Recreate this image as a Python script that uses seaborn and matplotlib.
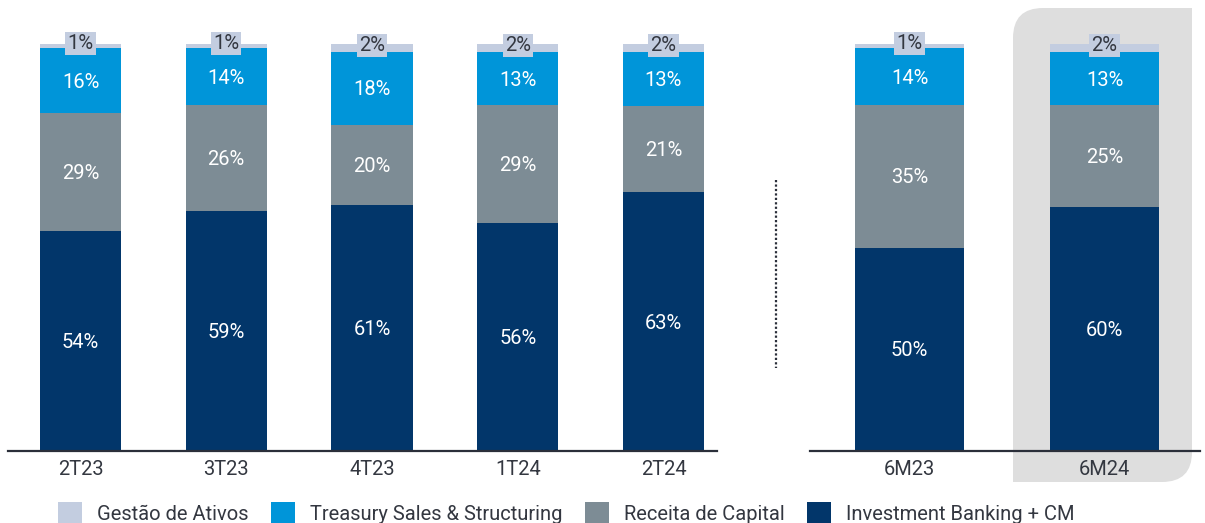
import numpy as np
import matplotlib
matplotlib.use('Agg')
import matplotlib.pyplot as plt
import seaborn as sns
from matplotlib.patches import Patch, PathPatch
from matplotlib.path import Path
from matplotlib.lines import Line2D
from matplotlib.transforms import IdentityTransform

# dados
periodos_tri = ['2T23', '3T23', '4T23', '1T24', '2T24']
periodos_sem = ['6M23', '6M24']
series = ['Gestão de Ativos', 'Treasury Sales & Structuring', 'Receita de Capital', 'Investment Banking + CM']

ib_tri = [54, 59, 61, 56, 63]
rc_tri = [29, 26, 20, 29, 21]
ts_tri = [16, 14, 18, 13, 13]
ga_tri = [1, 1, 2, 2, 2]

ib_sem = [50, 60]
rc_sem = [35, 25]
ts_sem = [14, 13]
ga_sem = [1, 2]

# cores na ordem da legenda
cores = ['#c3cde0', '#0095d9', '#7d8c95', '#02366a']
texto = '#333740'
FS = 14.5

sns.set_theme(style='white')
plt.rcParams['font.family'] = ['Roboto', 'DejaVu Sans']

W, H = 1205, 523
fig = plt.figure(figsize=(W / 100, H / 100), dpi=100)
fig.patch.set_facecolor('white')


def px_axes(x0, x1, ytop=8, ybase=451):
    return fig.add_axes([x0 / W, (H - ybase) / H, (x1 - x0) / W, (ybase - ytop) / H])


def empilhar(ax, periodos, ib, rc, ts, ga, largura):
    camadas = np.array([ib, rc, ts, ga], dtype=float)  # de baixo para cima
    norm = camadas / camadas.sum(axis=0) * 100
    acum = norm.cumsum(axis=0)
    cores_baixo = cores[::-1]
    for k in range(3, -1, -1):
        sns.barplot(x=periodos, y=acum[k], order=periodos, color=cores_baixo[k],
                    width=largura, saturation=1, ax=ax, linewidth=0)
    for k in range(4):
        for i in range(len(periodos)):
            yc = acum[k][i] - norm[k][i] / 2
            rot = f"{int(camadas[k][i])}%"
            if k == 3:
                ax.text(i, yc + 0.6, rot, ha='center', va='center', fontsize=FS, color=texto,
                        bbox=dict(facecolor=cores[0], edgecolor='none', pad=1.5), zorder=5)
            else:
                ax.text(i, yc - 0.4, rot, ha='center', va='center', fontsize=FS, color='white',
                        zorder=5)


def estilo(ax, xmin, xmax):
    ax.set_facecolor('none')
    ax.set_ylim(0, 100 * (451 - 8) / (451 - 44))
    ax.set_xlim(xmin, xmax)
    for s in ['top', 'right', 'left']:
        ax.spines[s].set_visible(False)
    ax.spines['bottom'].set_color('#2b2f3a')
    ax.spines['bottom'].set_linewidth(1.6)
    ax.set_yticks([])
    ax.set_xlabel('')
    ax.set_ylabel('')
    ax.tick_params(axis='x', length=0, labelsize=FS, colors=texto, pad=6.5)


# destaque cinza atrás de 6M24
x0, x1, yt, yb, r = 1013, 1192, H - 8, H - 482, 30
verts = [(x0, yb), (x0, yt - r), (x0, yt), (x0 + r, yt), (x1, yt), (x1, yb + r),
         (x1, yb), (x1 - r, yb), (x0, yb)]
codes = [Path.MOVETO, Path.LINETO, Path.CURVE3, Path.CURVE3, Path.LINETO, Path.LINETO,
         Path.CURVE3, Path.CURVE3, Path.CLOSEPOLY]
destaque = PathPatch(Path(verts, codes), facecolor='#dedede', edgecolor='none',
                     transform=IdentityTransform(), zorder=-1)
fig.add_artist(destaque)

ax1 = px_axes(8, 717)
empilhar(ax1, periodos_tri, ib_tri, rc_tri, ts_tri, ga_tri, 0.556)
estilo(ax1, (8 - 80.5) / 145.75, (717 - 80.5) / 145.75)

ax2 = px_axes(810, 1200)
empilhar(ax2, periodos_sem, ib_sem, rc_sem, ts_sem, ga_sem, 0.559)
estilo(ax2, (810 - 909.5) / 195, (1200 - 909.5) / 195)

# separador pontilhado
fig.add_artist(Line2D([776, 776], [H - 180, H - 368], transform=IdentityTransform(),
                      color='#2b2f3a', linestyle=(0, (1, 1)), linewidth=1.6))

handles = [Patch(facecolor=c, edgecolor='none', label=s) for c, s in zip(cores, series)]
leg = fig.legend(handles=handles, loc='center left', bbox_to_anchor=(58 / W, 10 / H), ncol=4,
                 frameon=False, fontsize=FS, handlelength=1.2, handleheight=1.2,
                 handletextpad=0.75, columnspacing=1.1, borderaxespad=0, borderpad=0)
for t in leg.get_texts():
    t.set_color(texto)

fig.savefig('out.png', dpi=100)
